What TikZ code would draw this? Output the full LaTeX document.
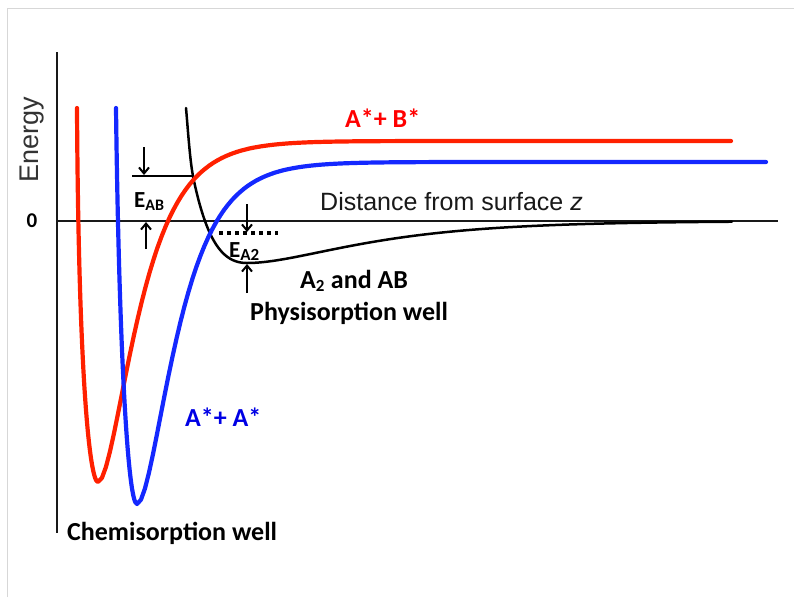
\documentclass[tikz,border=0pt]{standalone}
\usepackage{fontspec}
\setmainfont{Carlito}
\newfontfamily\helv{Liberation Sans}
\usetikzlibrary{arrows.meta}
\definecolor{cred}{RGB}{255,32,0}
\definecolor{cblue}{RGB}{20,40,255}
\definecolor{frame}{RGB}{215,215,215}
\tikzset{
  redcurve/.style={cred,line width=4.2pt,line cap=round,line join=round},
  bluecurve/.style={cblue,line width=4.2pt,line cap=round,line join=round},
  blackcurve/.style={black,line width=2.5pt,line cap=round,line join=round},
  axisline/.style={black!90,line width=2.6pt},
  marker/.style={black,line width=2pt},
  markarrow/.style={black,line width=2pt,-{Straight Barb[length=6pt,width=10pt,line width=2pt]}},
  lbl/.style={inner sep=0pt,anchor=base west,font=\bfseries\fontsize{26}{30}\selectfont},
  elbl/.style={inner sep=0pt,anchor=base west,font=\bfseries\fontsize{23}{27}\selectfont},
}
\begin{document}
\begin{tikzpicture}[x=1pt,y=-1pt]
\useasboundingbox (0,0) rectangle (794,597);
% frame
\draw[frame,line width=1pt] (7,597) -- (7,8) -- (794,8);
% axes
\draw[axisline] (57,52) -- (57,533);
\draw[axisline] (57,221) -- (778,221);
% black physisorption curve
\draw[blackcurve] (186,108) .. controls (187.6,125) and (189.8,160) .. (193,176)
  -- plot[domain=193:247,samples=50] (\x,{263-42*(exp(0.0165*(247-\x))-1)*(exp(0.0165*(247-\x))-1)})
  -- plot[domain=247:732,samples=120] (\x,{263-42*(1-exp(-0.0098*(\x-247)))*(1-exp(-0.0098*(\x-247)))});
% red curve
\draw[redcurve] (77,108) .. controls (78.5,380) and (90,482) .. (98,482)
  -- plot[domain=98:731,samples=160] (\x,{482-341*(1-exp(-0.0297*(\x-98)))*(1-exp(-0.0297*(\x-98)))});
% blue curve
\draw[bluecurve] (116,108) .. controls (119,350) and (128,504) .. (137,504)
  -- plot[domain=137:766,samples=160] (\x,{504-342*(1-exp(-0.0301*(\x-137)))*(1-exp(-0.0301*(\x-137)))});
% E_AB marker
\coordinate (abL) at (132,176);
\coordinate (abR) at (193,176);
\draw[marker] (abL) -- (abR);
\coordinate (abTop) at (144,147);
\coordinate (abTopEnd) at (144,175);
\draw[markarrow] (abTop) -- (abTopEnd);
\coordinate (abBot) at (146,249);
\coordinate (abBotEnd) at (146,222);
\draw[markarrow] (abBot) -- (abBotEnd);
\node[elbl] (eab) at (134,207) {E\textsubscript{\fontsize{16}{18}\selectfont AB}};
% E_A2 marker
\coordinate (a2L) at (219,233);
\coordinate (a2R) at (278,233);
\draw[black,line width=3.2pt,dash pattern=on 3.5pt off 4.5pt] (a2L) -- (a2R);
\coordinate (a2Top) at (247,204);
\coordinate (a2TopEnd) at (247,232);
\draw[markarrow] (a2Top) -- (a2TopEnd);
\coordinate (a2Bot) at (247,293);
\coordinate (a2BotEnd) at (247,264);
\draw[markarrow] (a2Bot) -- (a2BotEnd);
\node[elbl] (ea2) at (229,257) {E\textsubscript{\fontsize{17}{19}\selectfont A2}};
% labels
\node[inner sep=0pt,anchor=base west,rotate=90,text=black!80,font=\helv\fontsize{27}{30}\selectfont] (energy) at (38,183) {Energy};
\node[inner sep=0pt,font=\bfseries\fontsize{21}{24}\selectfont] (zero) at (32,221) {0};
\node[inner sep=0pt,anchor=base west,text=black!90,font=\helv\fontsize{25}{30}\selectfont] (dist) at (320,210) {Distance from surface \textit{z}};
\node[lbl,text=red] (ab) at (345,127) {A*+ B*};
\node[lbl,text=blue!90!black] (aa) at (185,426) {A*+ A*};
\node[lbl] (chem) at (67,540) {Chemisorption well};
\node[lbl] (a2ab) at (300,288) {A\textsubscript{\fontsize{17}{20}\selectfont 2} and AB};
\node[lbl] (phys) at (250,320) {Physisorption well};
\end{tikzpicture}
\end{document}
